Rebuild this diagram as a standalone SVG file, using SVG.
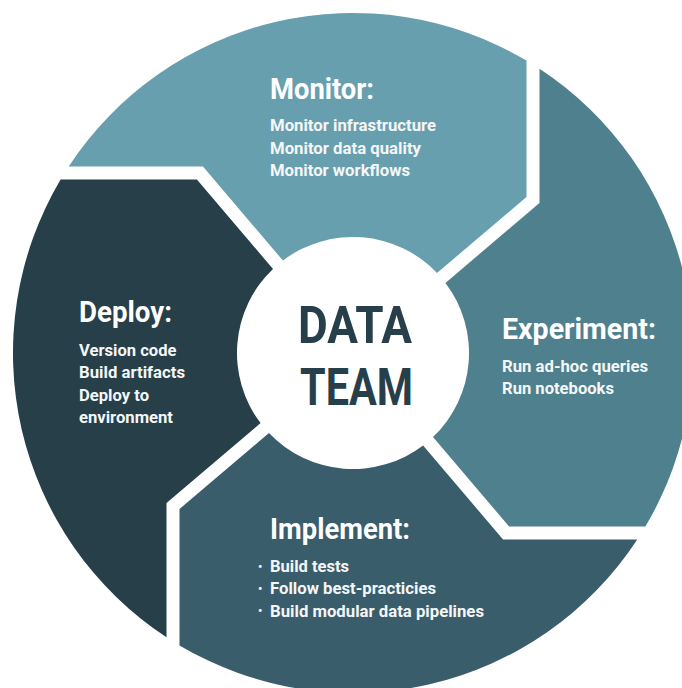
<svg xmlns="http://www.w3.org/2000/svg" width="682" height="688" viewBox="0 0 682 688">
  <style>
    text { font-family: Roboto, "Liberation Sans", sans-serif; font-weight: bold; fill: #ffffff; }
    .head { font-size: 29.5px; }
    .body { font-size: 17px; fill: #f4f6f7; }
    .bullet { font-size: 12px; }
    .center { font-size: 52px; fill: #263f4a; }
  </style>
  <rect x="0" y="0" width="682" height="688" fill="#ffffff"/>
  <g id="monitor">
    <path d="M68.7,166.5 A340,340 0 0 1 526.5,60.6 L526.5,196.9 L437.03,273.01 A116,116 0 0 0 282.91,260.55 L202.95,166.5 Z" fill="#689fae"/>
    <text class="head" x="270" y="98.5" textLength="104" lengthAdjust="spacingAndGlyphs">Monitor:</text>
    <text class="body" x="270" y="131" textLength="166" lengthAdjust="spacingAndGlyphs">Monitor infrastructure</text>
    <text class="body" x="270" y="153.5" textLength="151" lengthAdjust="spacingAndGlyphs">Monitor data quality</text>
    <text class="body" x="270" y="176" textLength="140" lengthAdjust="spacingAndGlyphs">Monitor workflows</text>
  </g>
  <g id="experiment">
    <path d="M539.5,68.7 A340,340 0 0 1 645.4,526.5 L509.1,526.5 L432.99,437.03 A116,116 0 0 0 445.45,282.91 L539.5,202.95 Z" fill="#4f808d"/>
    <text class="head" x="502" y="338.5" textLength="154" lengthAdjust="spacingAndGlyphs">Experiment:</text>
    <text class="body" x="502" y="371.5" textLength="146" lengthAdjust="spacingAndGlyphs">Run ad-hoc queries</text>
    <text class="body" x="502" y="394" textLength="112" lengthAdjust="spacingAndGlyphs">Run notebooks</text>
  </g>
  <g id="implement">
    <path d="M637.3,539.5 A340,340 0 0 1 179.5,645.4 L179.5,509.1 L268.97,432.99 A116,116 0 0 0 423.09,445.45 L503.05,539.5 Z" fill="#395d6a"/>
    <text class="head" x="270" y="538.5" textLength="140" lengthAdjust="spacingAndGlyphs">Implement:</text>
    <text class="body" y="572"><tspan class="bullet" x="258" dy="-1.5">•</tspan><tspan x="270" dy="1.5" textLength="79" lengthAdjust="spacingAndGlyphs">Build tests</tspan></text>
    <text class="body" y="594.3"><tspan class="bullet" x="258" dy="-1.5">•</tspan><tspan x="270" dy="1.5" textLength="166" lengthAdjust="spacingAndGlyphs">Follow best-practicies</tspan></text>
    <text class="body" y="616.6"><tspan class="bullet" x="258" dy="-1.5">•</tspan><tspan x="270" dy="1.5" textLength="214" lengthAdjust="spacingAndGlyphs">Build modular data pipelines</tspan></text>
  </g>
  <g id="deploy">
    <path d="M166.5,637.3 A340,340 0 0 1 60.6,179.5 L196.9,179.5 L273.01,268.97 A116,116 0 0 0 260.55,423.09 L166.5,503.05 Z" fill="#263f49"/>
    <text class="head" x="79" y="322" textLength="93" lengthAdjust="spacingAndGlyphs">Deploy:</text>
    <text class="body" x="79" y="356" textLength="97.5" lengthAdjust="spacingAndGlyphs">Version code</text>
    <text class="body" x="79" y="378.3" textLength="106" lengthAdjust="spacingAndGlyphs">Build artifacts</text>
    <text class="body" x="79" y="400.7" textLength="70" lengthAdjust="spacingAndGlyphs">Deploy to</text>
    <text class="body" x="79" y="423" textLength="94" lengthAdjust="spacingAndGlyphs">environment</text>
  </g>
  <g id="data-team">
    <text class="center" x="298" y="343" textLength="114" lengthAdjust="spacingAndGlyphs">DATA</text>
    <text class="center" x="300" y="405" textLength="113" lengthAdjust="spacingAndGlyphs">TEAM</text>
  </g>
  <g id="connectors"></g>
</svg>
